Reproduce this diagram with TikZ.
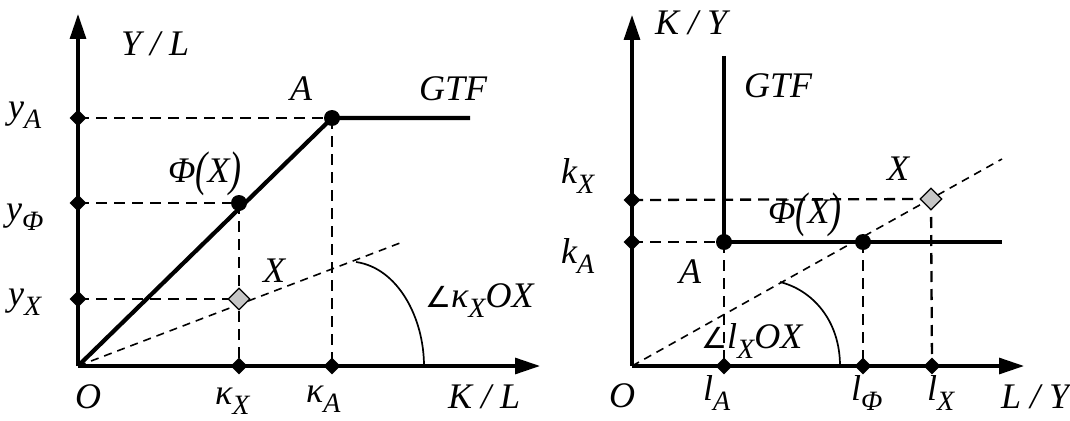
\documentclass[tikz,border=0pt]{standalone}
\usepackage{fontspec}
\usepackage{graphicx}
\setmainfont{Liberation Serif}
\newfontfamily\angfont{DejaVu Sans}
\usetikzlibrary{shapes.geometric,arrows.meta}
\newcommand{\lsub}[2]{#1\raisebox{-10pt}{\fontsize{28}{30}\selectfont #2}}
\newcommand{\bigpar}[1]{\raisebox{-3pt}{\scalebox{1}[1.35]{#1}}}
\newcommand{\angsym}{{\angfont\fontsize{29}{30}\selectfont\itshape ∠}}
\begin{document}
\begin{tikzpicture}[x=1pt,y=-1pt,
  every node/.style={font=\fontsize{36}{40}\selectfont\itshape, inner sep=0pt},
  lbl/.style={anchor=base west},
  axis/.style={line width=3.1pt,-{Triangle[length=25pt,width=16pt]}},
  gtf/.style={line width=4.2pt},
  guide/.style={line width=2.3pt, dash pattern=on 11pt off 7pt},
  ray/.style={line width=1.6pt, dash pattern=on 8pt off 6pt},
  anglearc/.style={line width=1.7pt},
  tick/.style={diamond, fill=black, minimum size=17pt},
  pt/.style={circle, fill=black, minimum size=16pt},
  xpt/.style={diamond, draw=black, fill=gray!45, line width=1.3pt, minimum size=22pt}
]
\useasboundingbox (0,0) rectangle (1070,420);

% ---------------- left panel ----------------
\coordinate (O1) at (78,366);
\coordinate (Y1) at (78,14);
\coordinate (X1) at (540,366);
\coordinate (G1end) at (470,118);
\coordinate (R1end) at (400,243);
\coordinate (a1s) at (356,262);
\coordinate (a1e) at (424,366);

\draw[axis] (O1) -- (Y1);
\draw[axis] (O1) -- (X1);

\node[tick] (yA) at (78,118) {};
\node[tick] (yPhi) at (78,203) {};
\node[tick] (yX) at (78,299) {};
\node[tick] (kX) at (239,366) {};
\node[tick] (kA) at (332,366) {};

\coordinate (A1c) at (332,118);
\coordinate (P1c) at (239,203);
\coordinate (X1c) at (239,299);

\draw[guide] (yA.center) -- (A1c);
\draw[guide] (A1c) -- (kA.center);
\draw[guide] (yPhi.center) -- (P1c);
\draw[guide] (P1c) -- (kX.center);
\draw[guide] (yX.center) -- (X1c);
\draw[ray] (O1) -- (R1end);
\draw[anglearc] (a1s) .. controls (398,268) and (424,318) .. (a1e);

\draw[gtf] (O1) -- (A1c) -- (G1end);

\node[pt] (A1) at (A1c) {};
\node[pt] (P1) at (P1c) {};
\node[xpt] (Xd1) at (X1c) {};

\node[lbl] (tYL) at (121,56) {Y / L};
\node[lbl] (tA1) at (290,100) {A};
\node[lbl] (tG1) at (419,100) {GTF};
\node[lbl] (tP1) at (168,182) {Φ\bigpar{(}X\bigpar{)}};
\node[lbl] (tX1) at (263,282) {X};
\node[lbl] (tyA) at (8,118) {\lsub{y}{A}};
\node[lbl] (tyP) at (6,220) {\lsub{y}{Φ}};
\node[lbl] (tyX) at (8,305) {\lsub{y}{X}};
\node[lbl] (tO1) at (75,408) {O};
\node[lbl] (tkX) at (215,404) {\lsub{κ}{X}};
\node[lbl] (tkA) at (306,402) {\lsub{κ}{A}};
\node[lbl] (tKL) at (448,408) {K / L};
\node[lbl] (tang1) at (425,307) {\angsym\lsub{κ}{X}OX};

% ---------------- right panel ----------------
\coordinate (O2) at (632,366);
\coordinate (Y2) at (632,15);
\coordinate (X2) at (1024,366);
\coordinate (G2top) at (724,56);
\coordinate (G2end) at (1002,242);
\coordinate (R2end) at (1002,159);
\coordinate (a2s) at (780,282);
\coordinate (a2e) at (840,366);

\draw[axis] (O2) -- (Y2);
\draw[axis] (O2) -- (X2);

\node[tick] (kX2) at (632,200) {};
\node[tick] (kA2) at (632,242) {};
\node[tick] (lA) at (724,366) {};
\node[tick] (lPhi) at (863,366) {};
\node[tick] (lX) at (932,366) {};

\coordinate (A2c) at (724,242);
\coordinate (P2c) at (863,242);
\coordinate (X2c) at (931,199);

\draw[guide] (kX2.center) -- (X2c);
\draw[guide] (X2c) -- (lX.center);
\draw[guide] (kA2.center) -- (A2c);
\draw[guide] (A2c) -- (lA.center);
\draw[guide] (P2c) -- (lPhi.center);
\draw[ray] (O2) -- (R2end);
\draw[anglearc] (a2s) .. controls (812,290) and (840,320) .. (a2e);

\draw[gtf] (G2top) -- (A2c) -- (G2end);

\node[pt] (A2) at (A2c) {};
\node[pt] (P2) at (P2c) {};
\node[xpt] (Xd2) at (X2c) {};

\node[lbl] (tKY) at (655,35) {K / Y};
\node[lbl] (tG2) at (744,97) {GTF};
\node[lbl] (tkX2) at (561,183) {\lsub{k}{X}};
\node[lbl] (tkA2) at (561,263) {\lsub{k}{A}};
\node[lbl] (tA2) at (679,283) {A};
\node[lbl] (tP2) at (768,223) {Φ\bigpar{(}X\bigpar{)}};
\node[lbl] (tX2) at (887,180) {X};
\node[lbl] (tang2) at (701,348) {\angsym\lsub{l}{X}OX};
\node[lbl] (tO2) at (609,407) {O};
\node[lbl] (tlA) at (703,400) {\lsub{l}{A}};
\node[lbl] (tlP) at (851,400) {\lsub{l}{Φ}};
\node[lbl] (tlX) at (927,400) {\lsub{l}{X}};
\node[lbl] (tLY) at (1001,408) {L / Y};
\end{tikzpicture}
\end{document}
